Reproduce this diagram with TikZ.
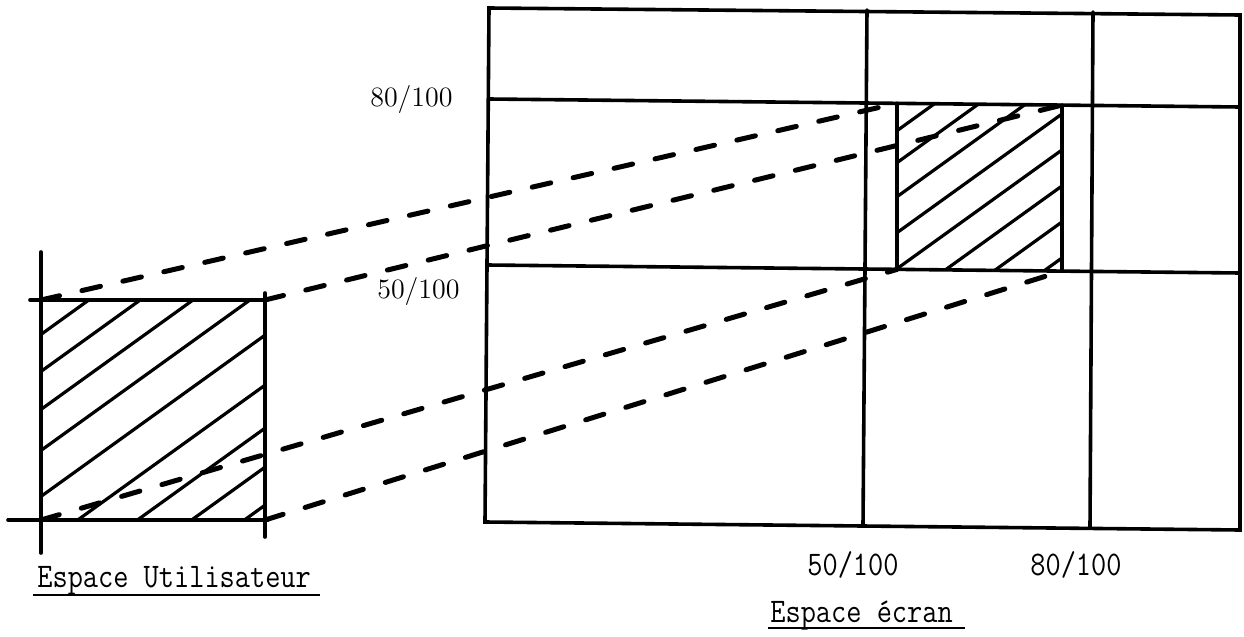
\documentclass[tikz,border=0pt]{standalone}
\usepackage{fontspec}
\begin{document}
\begin{tikzpicture}[x=0.5pt,y=-0.5pt,
  frame/.style={line width=1.8pt,line cap=round},
  proj/.style={line width=2.5pt,dash pattern=on 9.5pt off 11.5pt,line cap=round},
  hatchline/.style={line width=1.6pt},
  axlab/.style={font=\fontsize{14}{16}\selectfont,inner sep=0pt},
  ttlab/.style={font=\fontsize{14.75}{17}\selectfont\ttfamily,inner sep=0pt},
  uline/.style={line width=1.1pt}]
\useasboundingbox (0,0) rectangle (1244,637);
% ---- user space box ----
\coordinate (uTL) at (41,300);
\coordinate (uTR) at (265,300);
\coordinate (uBL) at (41,520);
\coordinate (uBR) at (265,520);
\begin{scope}
\clip (uTL) rectangle (uBR);
\foreach \y in {333,370,408,449,495,545,588,627,665}
  \draw[hatchline] (-57,\y+72) -- (443,\y-288);
\end{scope}
\draw[frame] (41,252) -- (41,553);
\draw[frame] (30,300) -- (267,300);
\draw[frame] (265,293) -- (265,537);
\draw[frame] (8,520) -- (268,520);
% ---- screen space ----
\coordinate (bTL) at (489,8);
\coordinate (bTR) at (1240,15);
\coordinate (bBR) at (1240,530);
\coordinate (bBL) at (485,522);
\draw[frame] (bTL) -- (bTR) -- (bBR) -- (bBL) -- cycle;
\draw[frame] (867,10) -- (863,526);
\draw[frame] (1093,12) -- (1090,528);
\draw[frame] (489,99) -- (1240,107);
\draw[frame] (487,265) -- (1240,273);
\coordinate (sTL) at (897,103.3);
\coordinate (sTR) at (1062,105.1);
\coordinate (sBL) at (897,269.4);
\coordinate (sBR) at (1062,271.1);
\begin{scope}
\clip (sTL) -- (sTR) -- (sBR) -- (sBL) -- cycle;
\foreach \y in {130,162,196,232,268,304,340,376}
  \draw[hatchline] (798,\y+72) -- (1298,\y-288);
\end{scope}
\draw[frame] (sTL) -- (sBL);
\draw[frame] (sTR) -- (sBR);
% ---- projection lines ----
\draw[proj] (uTL) -- (sTL);
\draw[proj] (uTR) -- (sTR);
\draw[proj] (uBL) -- (sBL);
\draw[proj] (uBR) -- (sBR);
% ---- labels ----
\node[axlab,anchor=base east] (l80) at (453,106) {80/100};
\node[axlab,anchor=base east] (l50) at (460,298) {50/100};
\node[ttlab,anchor=base west] (b50) at (807,575) {\scalebox{1}[1.17]{50/100}};
\node[ttlab,anchor=base west] (b80) at (1030,575) {\scalebox{1}[1.17]{80/100}};
\node[ttlab,anchor=base west] (tu) at (37,587) {\scalebox{1}[1.17]{Espace Utilisateur}};
\draw[uline] (33,595) -- (320,595);
\node[ttlab,anchor=base west] (te) at (770,622) {\scalebox{1}[1.17]{Espace écran}};
\draw[uline] (768,628) -- (965,628);
\end{tikzpicture}
\end{document}
